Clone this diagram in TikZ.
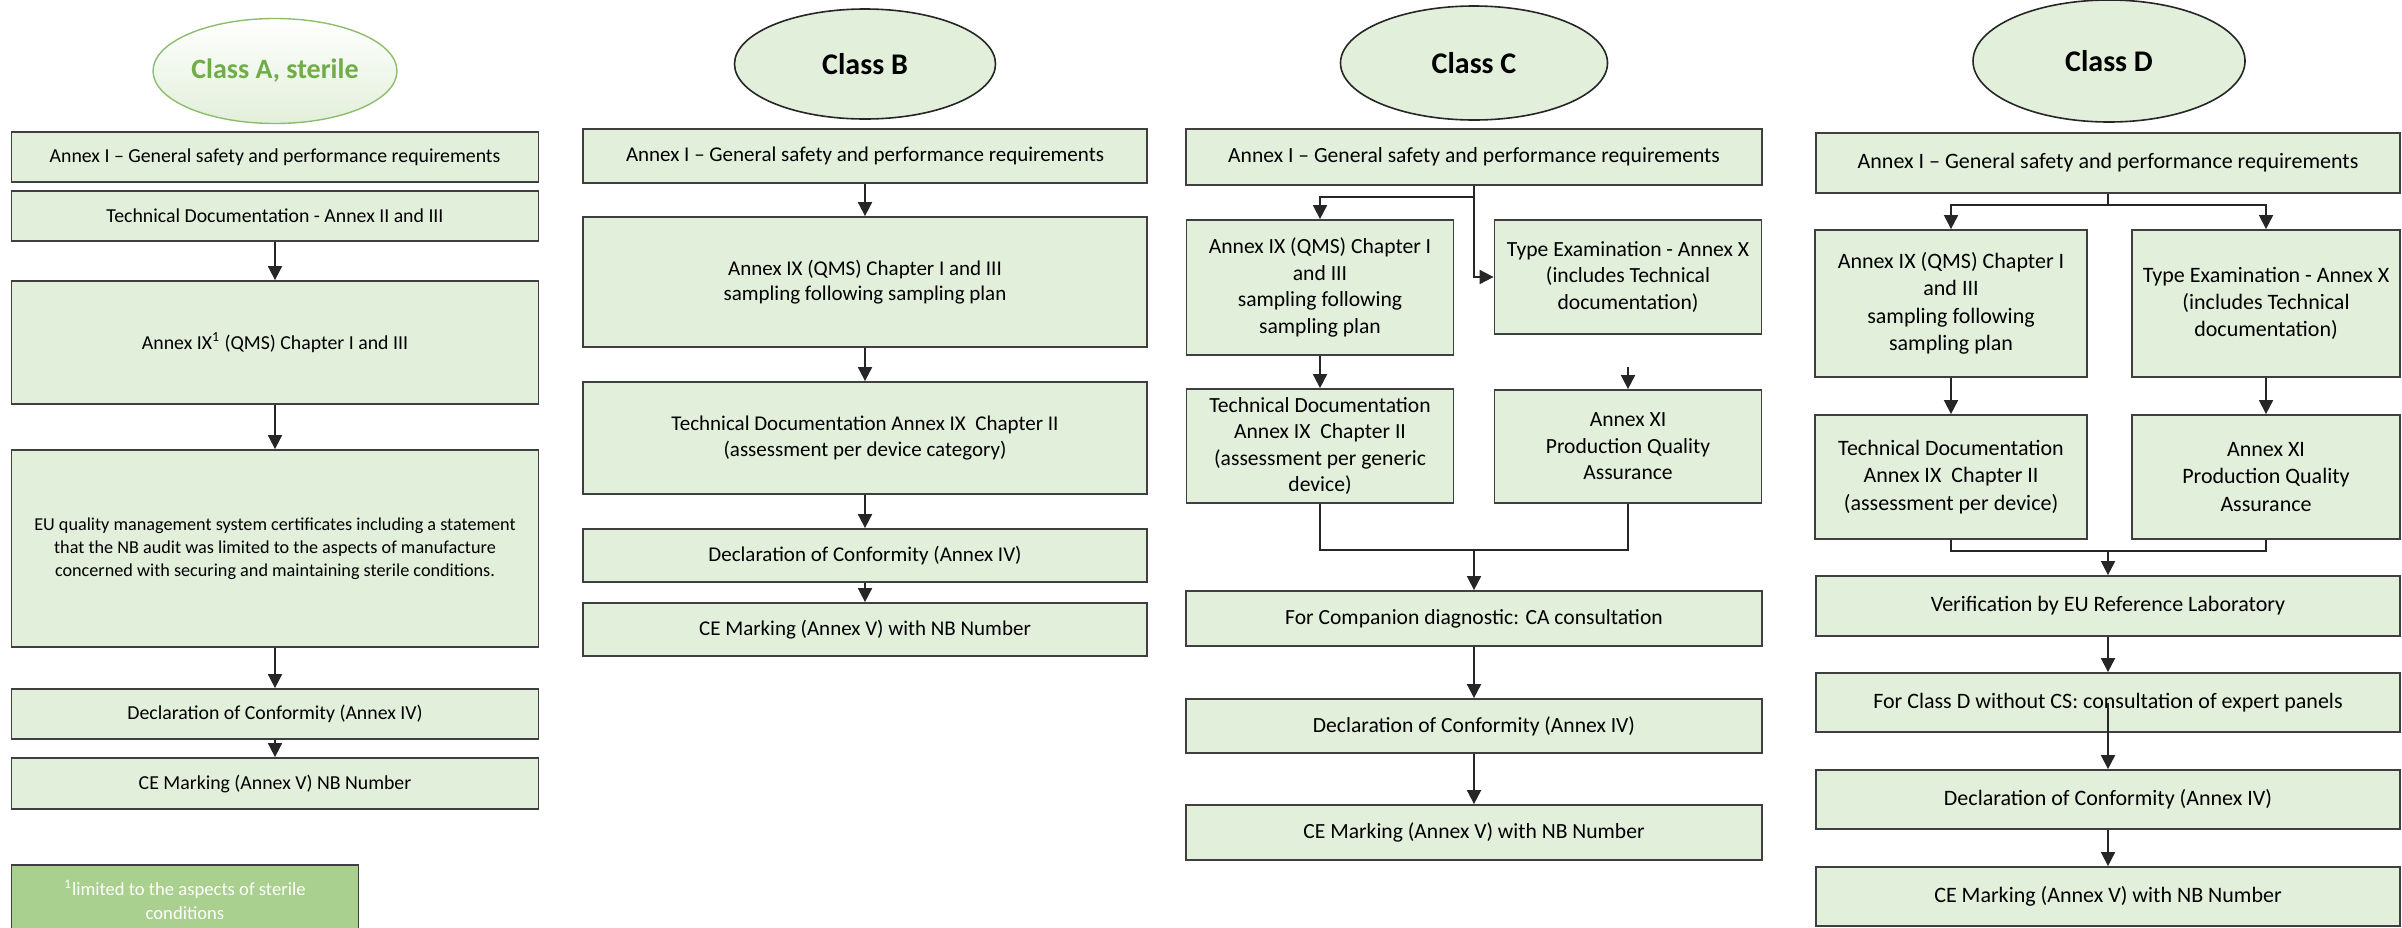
\documentclass[tikz,border=0pt]{standalone}
\usepackage{fontspec}
\setmainfont{Carlito}
\usetikzlibrary{shapes.geometric,arrows.meta,positioning}
\definecolor{boxfill}{HTML}{E2EFDA}
\definecolor{boxline}{HTML}{3F3F3F}
\definecolor{notefill}{HTML}{A9D08E}
\definecolor{classgreen}{HTML}{70AD47}
\tikzset{
	box/.style={rectangle, draw=boxline, line width=0.9pt, fill=boxfill, align=center, inner sep=2pt},
	colA/.style={box, minimum width=263.5pt, font=\fontsize{9.9}{12.2}\selectfont},
	colB/.style={box, minimum width=282pt, font=\fontsize{10.5}{12.8}\selectfont},
	colC/.style={box, minimum width=288pt, font=\fontsize{10.8}{13.3}\selectfont},
	halfC/.style={colC, minimum width=133.5pt},
	colD/.style={box, minimum width=292pt, font=\fontsize{11}{13.7}\selectfont},
	halfD/.style={colD, minimum width=136pt},
	classbox/.style={ellipse, draw=black!85, line width=0.8pt, fill=boxfill, inner sep=0pt, font=\fontsize{15}{18}\selectfont\bfseries},
	classA/.style={ellipse, draw=classgreen!80, line width=0.7pt, top color=white, bottom color=boxfill, inner sep=0pt, text=classgreen, font=\fontsize{14}{17}\selectfont\bfseries},
	note/.style={rectangle, draw=boxline, line width=0.9pt, fill=notefill, text=white, align=center, font=\fontsize{9.3}{12}\selectfont},
	flow/.style={draw=black!85, line width=0.9pt},
	arr/.style={flow, -{Triangle[width=7pt,length=7pt]}}
}
\begin{document}
\begin{tikzpicture}[x=0.5pt, y=-0.5pt]
	\useasboundingbox (0,0) rectangle (2402,927);
	\clip (0,0) rectangle (2402,927);

	% Class A, sterile
	\node[classA, minimum width=122pt, minimum height=52.5pt] (ea) at (275,71) {Class A, sterile};
	\node[colA, minimum height=25pt] (a1) at (275,157) {Annex I – General safety and performance requirements};
	\node[colA, minimum height=25pt] (a2) at (275,216) {Technical Documentation - Annex II and III};
	\node[colA, minimum height=61.5pt] (a3) at (275,342.5) {Annex IX\textsuperscript{1} (QMS) Chapter I and III};
	\node[colA, minimum height=98.5pt, font=\fontsize{9.1}{11.6}\selectfont] (a4) at (275,548.5) {EU quality management system certificates including a statement\\that the NB audit was limited to the aspects of manufacture\\concerned with securing and maintaining sterile conditions.};
	\node[colA, minimum height=25pt] (a5) at (275,714) {Declaration of Conformity (Annex IV)};
	\node[colA, minimum height=25.5pt] (a6) at (275,783.5) {CE Marking (Annex V) NB Number};
	\node[note, minimum width=173.5pt, minimum height=35pt] (n1) at (185,900) {\textsuperscript{1}limited to the aspects of sterile\\conditions};
	\draw[arr] (a2) to (a3);
	\draw[arr] (a3) to (a4);
	\draw[arr] (a4) to (a5);
	\draw[arr] (a5) to (a6);

	% Class B
	\node[classbox, minimum width=130.5pt, minimum height=55pt] (eb) at (865,64) {Class B};
	\node[colB, minimum height=27pt] (b1) at (865,156) {Annex I – General safety and performance requirements};
	\node[colB, minimum height=65pt] (b2) at (865,282) {Annex IX (QMS) Chapter I and III\\sampling following sampling plan};
	\node[colB, minimum height=56pt] (b3) at (865,438) {Technical Documentation Annex IX\ \ Chapter II\\(assessment per device category)};
	\node[colB, minimum height=26.5pt] (b4) at (865,555.5) {Declaration of Conformity (Annex IV)};
	\node[colB, minimum height=26.5pt] (b5) at (865,629.5) {CE Marking (Annex V) with NB Number};
	\draw[arr] (b1) to (b2);
	\draw[arr] (b2) to (b3);
	\draw[arr] (b3) to (b4);
	\draw[arr] (b4) to (b5);

	% Class C
	\node[classbox, minimum width=133.5pt, minimum height=57pt] (ec) at (1474,63) {Class C};
	\node[colC, minimum height=28pt] (c1) at (1474,157) {Annex I – General safety and performance requirements};
	\node[halfC, minimum height=67.5pt] (c2) at (1320,287.5) {Annex IX (QMS) Chapter I\\and III\\sampling following\\sampling plan};
	\node[halfC, minimum height=57pt] (c3) at (1628,277) {Type Examination - Annex X\\(includes Technical\\documentation)};
	\node[halfC, minimum height=57pt] (c4) at (1320,446) {Technical Documentation\\Annex IX\ \ Chapter II\\(assessment per generic\\device)};
	\node[halfC, minimum height=56.5pt] (c5) at (1628,446.5) {Annex XI\\Production Quality\\Assurance};
	\node[colC, minimum height=27.5pt] (c6) at (1474,618.5) {For Companion diagnostic: CA consultation};
	\node[colC, minimum height=27pt] (c7) at (1474,726) {Declaration of Conformity (Annex IV)};
	\node[colC, minimum height=27.5pt] (c8) at (1474,832.5) {CE Marking (Annex V) with NB Number};
	\coordinate (cfork) at (1474,197);
	\coordinate (cstub) at (1628,367);
	\coordinate (cjoin) at (1474,550);
	\draw[arr] (c1.south) -- (cfork) -| (c2.north);
	\draw[arr] (c1.south) |- (c3.west);
	\draw[arr] (c2) to (c4);
	\draw[arr] (cstub) to (c5.north);
	\draw[flow] (c4.south) |- (cjoin) -| (c5.south);
	\draw[arr] (cjoin) to (c6.north);
	\draw[arr] (c6) to (c7);
	\draw[arr] (c7) to (c8);

	% Class D
	\node[classbox, minimum width=136pt, minimum height=61pt] (ed) at (2109,61) {Class D};
	\node[colD, minimum height=30pt] (d1) at (2108,163) {Annex I – General safety and performance requirements};
	\node[halfD, minimum height=73.5pt] (d2) at (1951,303.5) {Annex IX (QMS) Chapter I\\and III\\sampling following\\sampling plan};
	\node[halfD, minimum width=134pt, minimum height=73.5pt] (d3) at (2266,303.5) {Type Examination - Annex X\\(includes Technical\\documentation)};
	\node[halfD, minimum height=62pt] (d4) at (1951,477) {Technical Documentation\\Annex IX\ \ Chapter II\\(assessment per device)};
	\node[halfD, minimum width=134pt, minimum height=62pt] (d5) at (2266,477) {Annex XI\\Production Quality\\Assurance};
	\node[colD, minimum height=30pt] (d6) at (2108,606) {Verification by EU Reference Laboratory};
	\node[colD, minimum height=29.5pt] (d7) at (2108,702.5) {For Class D without CS: consultation of expert panels};
	\node[colD, minimum height=29.5pt] (d8) at (2108,799.5) {Declaration of Conformity (Annex IV)};
	\node[colD, minimum height=29.5pt] (d9) at (2108,896.5) {CE Marking (Annex V) with NB Number};
	\coordinate (dfork) at (2108,205);
	\coordinate (djoin) at (2108,551);
	\draw[flow] (d1.south) -- (dfork);
	\draw[arr] (dfork) -| (d2.north);
	\draw[arr] (dfork) -| (d3.north);
	\draw[arr] (d2) to (d4);
	\draw[arr] (d3) to (d5);
	\draw[flow] (d4.south) |- (djoin) -| (d5.south);
	\draw[arr] (djoin) to (d6.north);
	\draw[arr] (d6) to (d7);
	\draw[arr] (d7.center) to (d8.north);
	\draw[arr] (d8) to (d9);
\end{tikzpicture}
\end{document}
